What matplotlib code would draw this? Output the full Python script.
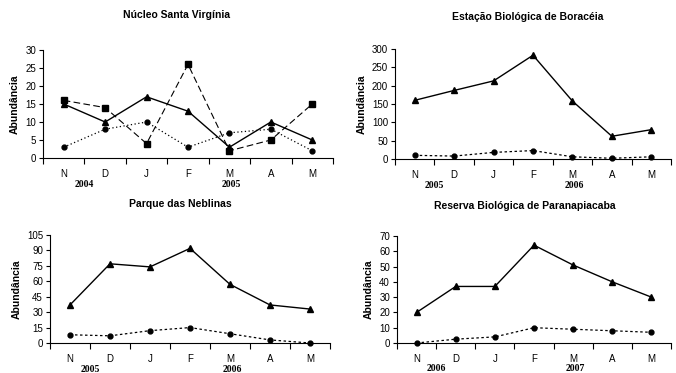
import matplotlib.pyplot as plt
import numpy as np

plt.rcParams['font.family'] = ['Liberation Sans', 'DejaVu Sans']

# Dados
meses = ['N', 'D', 'J', 'F', 'M', 'A', 'M']

santa_virginia_tri = [15, 10, 17, 13, 3, 10, 5]
santa_virginia_quad = [16, 14, 4, 26, 2, 5, 15]
santa_virginia_circ = [3, 8, 10, 3, 7, 8, 2]

boraceia_tri = [160, 187, 213, 283, 158, 62, 80]
boraceia_circ = [10, 8, 18, 23, 6, 2, 6]

neblinas_tri = [37, 77, 74, 92, 57, 37, 33]
neblinas_circ = [8, 7, 12, 15, 9, 3, 0]

paranapiacaba_tri = [20, 37, 37, 64, 51, 40, 30]
paranapiacaba_circ = [0, 2.5, 4, 10, 9, 8, 7]

W, H = 676, 373
fig = plt.figure(figsize=(W / 100, H / 100), dpi=100)


def eixo(x0, x1, ytop, ybot):
    return fig.add_axes([x0 / W, 1 - ybot / H, (x1 - x0) / W, (ybot - ytop) / H])


def formatar(ax, titulo, ymax, passo, anos, tx, ty):
    x = np.arange(len(meses))
    ax.set_xlim(-0.5, len(meses) - 0.5)
    ax.set_ylim(0, ymax)
    ax.set_yticks(np.arange(0, ymax + 1, passo))
    ax.set_xticks(np.arange(-0.5, len(meses) + 0.5, 1))
    ax.set_xticklabels([])
    ax.set_xticks(x, minor=True)
    ax.set_xticklabels(meses, minor=True)
    ax.tick_params(axis='x', which='minor', length=0, pad=8, labelsize=7)
    ax.tick_params(axis='x', which='major', length=4, width=0.8, direction='out')
    ax.tick_params(axis='y', length=3, width=0.8, labelsize=7, pad=2)
    for s in ['top', 'right']:
        ax.spines[s].set_visible(False)
    for s in ['left', 'bottom']:
        ax.spines[s].set_linewidth(0.8)
    ax.set_ylabel('Abundância', fontsize=7.5, fontweight='bold')
    fig.text(tx / W, 1 - ty / H, titulo, ha='center', va='center', fontsize=7.5, fontweight='bold')
    for pos, ano in zip([0.5, 4.05], anos):
        ax.text(pos, -0.2, ano, transform=ax.get_xaxis_transform(), ha='center', va='top',
                fontsize=7, fontweight='bold', family='Liberation Serif')


ms = 4

# Núcleo Santa Virgínia
ax1 = eixo(43, 333, 50, 158)
x = np.arange(len(meses))
ax1.plot(x, santa_virginia_tri, color='black', lw=1, marker='^', ms=ms)
ax1.plot(x, santa_virginia_quad, color='black', lw=0.8, ls=(0, (6, 3)), marker='s', ms=ms + 1)
ax1.plot(x, santa_virginia_circ, color='black', lw=0.9, ls=(0, (1, 2)), marker='o', ms=ms - 0.5)
formatar(ax1, 'Núcleo Santa Virgínia', 30, 5, ['2004', '2005'], 177, 15)

# Estação Biológica de Boracéia
ax2 = eixo(395, 671, 49, 159)
ax2.plot(x, boraceia_tri, color='black', lw=1, marker='^', ms=ms)
ax2.plot(x, boraceia_circ, color='black', lw=0.9, ls=(0, (2, 2)), marker='o', ms=ms - 0.5)
formatar(ax2, 'Estação Biológica de Boracéia', 300, 50, ['2005', '2006'], 528, 17)

# Parque das Neblinas
ax3 = eixo(50, 330, 235, 343)
ax3.plot(x, neblinas_tri, color='black', lw=1, marker='^', ms=ms)
ax3.plot(x, neblinas_circ, color='black', lw=0.9, ls=(0, (2, 2)), marker='o', ms=ms - 0.5)
formatar(ax3, 'Parque das Neblinas', 105, 15, ['2005', '2006'], 180, 204)

# Reserva Biológica de Paranapiacaba
ax4 = eixo(397, 671, 236, 343)
ax4.plot(x, paranapiacaba_tri, color='black', lw=1, marker='^', ms=ms)
ax4.plot(x, paranapiacaba_circ, color='black', lw=0.9, ls=(0, (2, 2)), marker='o', ms=ms - 0.5)
formatar(ax4, 'Reserva Biológica de Paranapiacaba', 70, 10, ['2006', '2007'], 525, 206)

for ax in [ax1, ax2, ax3, ax4]:
    for l in ax.get_lines():
        l.set_clip_on(False)

fig.savefig('out.png', dpi=100)
